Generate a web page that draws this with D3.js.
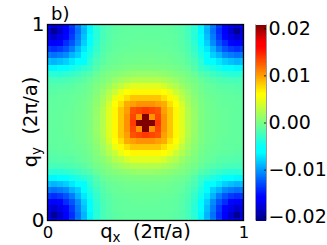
<!DOCTYPE html>
<html><head><meta charset="utf-8">
<script src="https://cdn.jsdelivr.net/npm/d3@7"></script>
<style>html,body{margin:0;padding:0;background:#fff}svg{display:block}text{font-family:"DejaVu Sans";fill:#000}</style>
</head><body><svg id="c" width="327" height="245"></svg>
<script>
// weight, in units of 0.001; rows run from q_y=0 up to q_y=1
const values = [
[-16,-17.5,-17,-15.5,-13.5,-11,-8.5,-6.5,-3.2,-2.2,-1.6,-1.3,-1.1,-1,-1,-1,-1,-1,-1,-1,-1.1,-1.3,-1.6,-2.2,-3.2,-6.5,-8.5,-11,-13.5,-15.5,-17,-17.5,-16],
[-17.5,-20,-18,-16,-14,-11.5,-9,-6.5,-3.5,-2.2,-1.6,-1.3,-1.1,-1,-1,-1,-1,-1,-1,-1,-1.1,-1.3,-1.6,-2.2,-3.5,-6.5,-9,-11.5,-14,-16,-18,-20,-17.5],
[-17,-18,-17,-15.5,-13.5,-11,-8.5,-6,-3.5,-2.2,-1.5,-1.2,-1,-1,-0.9,-0.9,-0.9,-0.9,-0.9,-1,-1,-1.2,-1.5,-2.2,-3.5,-6,-8.5,-11,-13.5,-15.5,-17,-18,-17],
[-15.5,-16,-15.5,-14,-12.5,-10.5,-8,-5.5,-3.2,-2,-1.5,-1.1,-1,-0.9,-0.8,-0.8,-0.8,-0.8,-0.8,-0.9,-1,-1.1,-1.5,-2,-3.2,-5.5,-8,-10.5,-12.5,-14,-15.5,-16,-15.5],
[-13.5,-14,-13.5,-12.5,-11,-9,-7,-4.5,-3,-1.8,-1.3,-1,-0.8,-0.8,-0.7,-0.6,-0.6,-0.6,-0.7,-0.8,-0.8,-1,-1.3,-1.8,-3,-4.5,-7,-9,-11,-12.5,-13.5,-14,-13.5],
[-11,-11.5,-11,-10.5,-9,-8,-6,-4,-2.5,-1.6,-1,-0.8,-0.6,-0.5,-0.5,-0.4,-0.4,-0.4,-0.5,-0.5,-0.6,-0.8,-1,-1.6,-2.5,-4,-6,-8,-9,-10.5,-11,-11.5,-11],
[-8.5,-9,-8.5,-8,-7,-6,-5.5,-3.3,-2,-1.3,-0.8,-0.6,-0.4,-0.3,-0.3,-0.2,-0.2,-0.2,-0.3,-0.3,-0.4,-0.6,-0.8,-1.3,-2,-3.3,-5.5,-6,-7,-8,-8.5,-9,-8.5],
[-6.5,-6.5,-6,-5.5,-4.5,-4,-3.3,-2.8,-1.6,-0.8,-0.4,-0.2,0,0.2,0.3,0.3,0.3,0.3,0.3,0.2,0,-0.2,-0.4,-0.8,-1.6,-2.8,-3.3,-4,-4.5,-5.5,-6,-6.5,-6.5],
[-3.2,-3.5,-3.5,-3.2,-3,-2.5,-2,-1.6,-0.8,-0.2,0.2,0.5,0.8,1,1.2,1.3,1.3,1.3,1.2,1,0.8,0.5,0.2,-0.2,-0.8,-1.6,-2,-2.5,-3,-3.2,-3.5,-3.5,-3.2],
[-2.2,-2.2,-2.2,-2,-1.8,-1.6,-1.3,-0.8,-0.2,0.2,0.8,1.3,1.8,2.2,2.5,2.6,2.6,2.6,2.5,2.2,1.8,1.3,0.8,0.2,-0.2,-0.8,-1.3,-1.6,-1.8,-2,-2.2,-2.2,-2.2],
[-1.6,-1.6,-1.5,-1.5,-1.3,-1,-0.8,-0.4,0.2,0.8,1.5,2.5,3,4,4.5,4.5,4.5,4.5,4.5,4,3,2.5,1.5,0.8,0.2,-0.4,-0.8,-1,-1.3,-1.5,-1.5,-1.6,-1.6],
[-1.3,-1.3,-1.2,-1.1,-1,-0.8,-0.6,-0.2,0.5,1.3,2.5,3.5,5,6,6.5,6.5,6.5,6.5,6.5,6,5,3.5,2.5,1.3,0.5,-0.2,-0.6,-0.8,-1,-1.1,-1.2,-1.3,-1.3],
[-1.1,-1.1,-1,-1,-0.8,-0.6,-0.4,0,0.8,1.8,3,5,6.5,7.5,8.5,8.5,8.5,8.5,8.5,7.5,6.5,5,3,1.8,0.8,0,-0.4,-0.6,-0.8,-1,-1,-1.1,-1.1],
[-1,-1,-1,-0.9,-0.8,-0.5,-0.3,0.2,1,2.2,4,6,7.5,9.5,10,10.5,10.5,10.5,10,9.5,7.5,6,4,2.2,1,0.2,-0.3,-0.5,-0.8,-0.9,-1,-1,-1],
[-1,-1,-0.9,-0.8,-0.7,-0.5,-0.3,0.3,1.2,2.5,4.5,6.5,8.5,10,13,13.5,14,13.5,13,10,8.5,6.5,4.5,2.5,1.2,0.3,-0.3,-0.5,-0.7,-0.8,-0.9,-1,-1],
[-1,-1,-0.9,-0.8,-0.6,-0.4,-0.2,0.3,1.3,2.6,4.5,6.5,8.5,10.5,13.5,10.5,21,10.5,13.5,10.5,8.5,6.5,4.5,2.6,1.3,0.3,-0.2,-0.4,-0.6,-0.8,-0.9,-1,-1],
[-1,-1,-0.9,-0.8,-0.6,-0.4,-0.2,0.3,1.3,2.6,4.5,6.5,8.5,10.5,14,21,21,21,14,10.5,8.5,6.5,4.5,2.6,1.3,0.3,-0.2,-0.4,-0.6,-0.8,-0.9,-1,-1],
[-1,-1,-0.9,-0.8,-0.6,-0.4,-0.2,0.3,1.3,2.6,4.5,6.5,8.5,10.5,13.5,10.5,21,10.5,13.5,10.5,8.5,6.5,4.5,2.6,1.3,0.3,-0.2,-0.4,-0.6,-0.8,-0.9,-1,-1],
[-1,-1,-0.9,-0.8,-0.7,-0.5,-0.3,0.3,1.2,2.5,4.5,6.5,8.5,10,13,13.5,14,13.5,13,10,8.5,6.5,4.5,2.5,1.2,0.3,-0.3,-0.5,-0.7,-0.8,-0.9,-1,-1],
[-1,-1,-1,-0.9,-0.8,-0.5,-0.3,0.2,1,2.2,4,6,7.5,9.5,10,10.5,10.5,10.5,10,9.5,7.5,6,4,2.2,1,0.2,-0.3,-0.5,-0.8,-0.9,-1,-1,-1],
[-1.1,-1.1,-1,-1,-0.8,-0.6,-0.4,0,0.8,1.8,3,5,6.5,7.5,8.5,8.5,8.5,8.5,8.5,7.5,6.5,5,3,1.8,0.8,0,-0.4,-0.6,-0.8,-1,-1,-1.1,-1.1],
[-1.3,-1.3,-1.2,-1.1,-1,-0.8,-0.6,-0.2,0.5,1.3,2.5,3.5,5,6,6.5,6.5,6.5,6.5,6.5,6,5,3.5,2.5,1.3,0.5,-0.2,-0.6,-0.8,-1,-1.1,-1.2,-1.3,-1.3],
[-1.6,-1.6,-1.5,-1.5,-1.3,-1,-0.8,-0.4,0.2,0.8,1.5,2.5,3,4,4.5,4.5,4.5,4.5,4.5,4,3,2.5,1.5,0.8,0.2,-0.4,-0.8,-1,-1.3,-1.5,-1.5,-1.6,-1.6],
[-2.2,-2.2,-2.2,-2,-1.8,-1.6,-1.3,-0.8,-0.2,0.2,0.8,1.3,1.8,2.2,2.5,2.6,2.6,2.6,2.5,2.2,1.8,1.3,0.8,0.2,-0.2,-0.8,-1.3,-1.6,-1.8,-2,-2.2,-2.2,-2.2],
[-3.2,-3.5,-3.5,-3.2,-3,-2.5,-2,-1.6,-0.8,-0.2,0.2,0.5,0.8,1,1.2,1.3,1.3,1.3,1.2,1,0.8,0.5,0.2,-0.2,-0.8,-1.6,-2,-2.5,-3,-3.2,-3.5,-3.5,-3.2],
[-6.5,-6.5,-6,-5.5,-4.5,-4,-3.3,-2.8,-1.6,-0.8,-0.4,-0.2,0,0.2,0.3,0.3,0.3,0.3,0.3,0.2,0,-0.2,-0.4,-0.8,-1.6,-2.8,-3.3,-4,-4.5,-5.5,-6,-6.5,-6.5],
[-8.5,-9,-8.5,-8,-7,-6,-5.5,-3.3,-2,-1.3,-0.8,-0.6,-0.4,-0.3,-0.3,-0.2,-0.2,-0.2,-0.3,-0.3,-0.4,-0.6,-0.8,-1.3,-2,-3.3,-5.5,-6,-7,-8,-8.5,-9,-8.5],
[-11,-11.5,-11,-10.5,-9,-8,-6,-4,-2.5,-1.6,-1,-0.8,-0.6,-0.5,-0.5,-0.4,-0.4,-0.4,-0.5,-0.5,-0.6,-0.8,-1,-1.6,-2.5,-4,-6,-8,-9,-10.5,-11,-11.5,-11],
[-13.5,-14,-13.5,-12.5,-11,-9,-7,-4.5,-3,-1.8,-1.3,-1,-0.8,-0.8,-0.7,-0.6,-0.6,-0.6,-0.7,-0.8,-0.8,-1,-1.3,-1.8,-3,-4.5,-7,-9,-11,-12.5,-13.5,-14,-13.5],
[-15.5,-16,-15.5,-14,-12.5,-10.5,-8,-5.5,-3.2,-2,-1.5,-1.1,-1,-0.9,-0.8,-0.8,-0.8,-0.8,-0.8,-0.9,-1,-1.1,-1.5,-2,-3.2,-5.5,-8,-10.5,-12.5,-14,-15.5,-16,-15.5],
[-17,-18,-17,-15.5,-13.5,-11,-8.5,-6,-3.5,-2.2,-1.5,-1.2,-1,-1,-0.9,-0.9,-0.9,-0.9,-0.9,-1,-1,-1.2,-1.5,-2.2,-3.5,-6,-8.5,-11,-13.5,-15.5,-17,-18,-17],
[-17.5,-20,-18,-16,-14,-11.5,-9,-6.5,-3.5,-2.2,-1.6,-1.3,-1.1,-1,-1,-1,-1,-1,-1,-1,-1.1,-1.3,-1.6,-2.2,-3.5,-6.5,-9,-11.5,-14,-16,-18,-20,-17.5],
[-16,-17.5,-17,-15.5,-13.5,-11,-8.5,-6.5,-3.2,-2.2,-1.6,-1.3,-1.1,-1,-1,-1,-1,-1,-1,-1,-1.1,-1.3,-1.6,-2.2,-3.2,-6.5,-8.5,-11,-13.5,-15.5,-17,-17.5,-16]
];
const axisTicks = [0, 1];
const barTicks = [0.02, 0.01, 0, -0.01, -0.02];
const barLimit = 0.0208;
const xLabel = "x", yLabel = "y", labelRest = "\u00a0\u00a0(2π/a)", panel = "b)";
const jetStops = [0, .11, .125, .35, .375, .64, .65, .89, .91, 1];
const jetColors = ["#00007f","#0000ff","#0000ff","#00ffff","#00ffff","#ffff00","#ffff00","#ff0000","#ff0000","#7f0000"];

const svg = d3.select("#c");
const L = 47.5, R = 243.5, T = 24.5, B = 220.5;
const x = d3.scaleLinear().domain([0, 1]).range([L, R]);
const y = d3.scaleLinear().domain([0, 1]).range([B, T]);
const jet = d3.scaleLinear().domain(jetStops).range(jetColors).clamp(true);
const color = v => jet((v + barLimit) / (2 * barLimit));
const n = values.length - 1;

svg.append("clipPath").attr("id", "clip").append("rect")
  .attr("x", L).attr("y", T).attr("width", R - L).attr("height", B - T);
const cells = values.flatMap((row, i) => row.map((v, j) => ({i, j, v: v / 1000})));
svg.append("g").attr("clip-path", "url(#clip)").attr("shape-rendering", "crispEdges")
  .selectAll("rect").data(cells).join("rect")
  .attr("x", d => x((d.j - .5) / n))
  .attr("y", d => y((d.i + .5) / n))
  .attr("width", x(1 / n) - x(0) + .3)
  .attr("height", y(0) - y(1 / n) + .3)
  .attr("fill", d => color(d.v));
svg.append("rect").attr("x", L).attr("y", T).attr("width", R - L).attr("height", B - T)
  .attr("fill", "none").attr("stroke", "#000").attr("stroke-width", 1.3);

const xa = svg.append("g").attr("transform", `translate(0,${B})`)
  .call(d3.axisBottom(x).tickValues(axisTicks).tickFormat(d3.format("d")).tickSize(0).tickPadding(6));
const ya = svg.append("g").attr("transform", `translate(${L},0)`)
  .call(d3.axisLeft(y).tickValues(axisTicks).tickFormat(d3.format("d")).tickSize(0).tickPadding(3));
xa.select(".domain").remove(); ya.select(".domain").remove();
xa.selectAll("text").attr("font-size", 16.5).attr("font-family", "DejaVu Sans");
ya.selectAll("text").attr("font-size", 20).attr("font-family", "DejaVu Sans");

function axisTitle(g, sub) {
  g.attr("font-size", 19.5).attr("text-anchor", "middle");
  const t = g.append("text");
  t.append("tspan").text("q");
  t.append("tspan").attr("font-size", 13.5).attr("dy", 4).text(sub);
  t.append("tspan").attr("dy", -4).text(labelRest);
}
axisTitle(svg.append("g").attr("transform", "translate(145.5,238)"), xLabel);
axisTitle(svg.append("g").attr("transform", "translate(36.5,122) rotate(-90)"), yLabel);
svg.append("text").attr("x", 51).attr("y", 20).attr("font-size", 18).text(panel);

// colour bar
const cbL = 256, cbR = 266;
const cy = d3.scaleLinear().domain([-barLimit, barLimit]).range([B, T]);
const strips = d3.range(0, 256);
svg.append("g").attr("shape-rendering", "crispEdges").selectAll("rect").data(strips).join("rect")
  .attr("x", cbL).attr("width", cbR - cbL)
  .attr("y", d => cy(-barLimit + 2 * barLimit * (d + 1) / 256))
  .attr("height", (B - T) / 256 + .5)
  .attr("fill", d => jet((d + .5) / 256));
svg.append("line").attr("x1", cbL - .5).attr("x2", cbL - .5).attr("y1", T).attr("y2", B).attr("stroke", "#999");
svg.append("line").attr("x1", cbR + .5).attr("x2", cbR + .5).attr("y1", T).attr("y2", B).attr("stroke", "#999");
const ca = svg.append("g").attr("transform", `translate(${cbR},0)`)
  .call(d3.axisRight(cy).tickValues(barTicks).tickFormat(d => d3.format(".2f")(d).replace("-", "−")).tickSizeInner(-2).tickSizeOuter(0).tickPadding(4));
ca.select(".domain").remove();
ca.selectAll("line").attr("stroke", "#000").attr("stroke-width", .8);
ca.selectAll("text").attr("font-size", 19).attr("font-family", "DejaVu Sans").attr("x", 2.5);
</script></body></html>
